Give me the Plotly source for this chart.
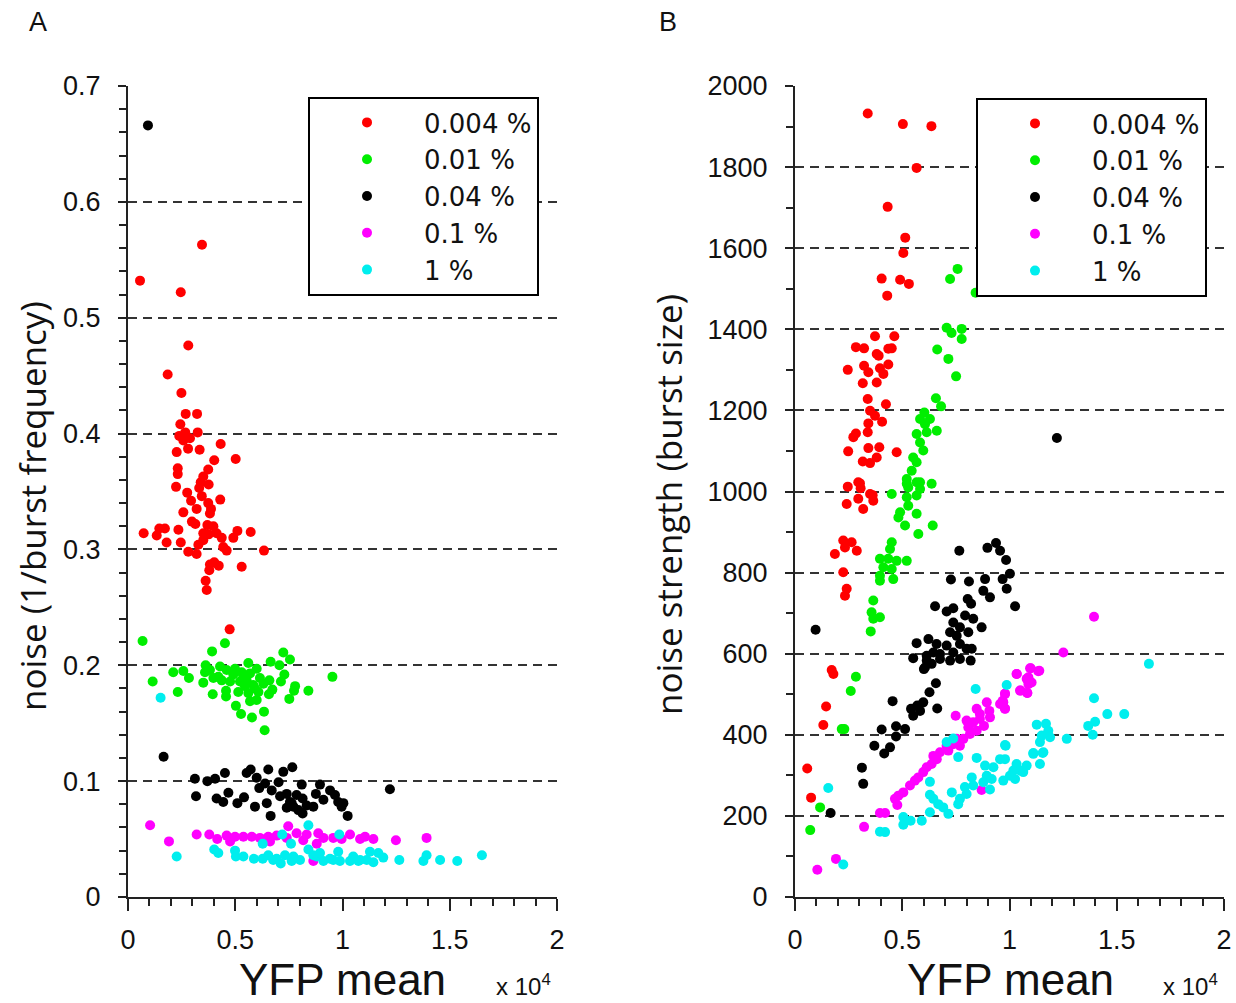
import plotly.graph_objects as go

# ---------------- Panel A: noise (1/burst frequency) vs YFP mean (x 1e4) ----------------
a_red_x = [0.056,0.246,0.345,0.281,0.185,0.249,0.269,0.322,0.244,0.325,0.239,0.267,0.258,0.289,0.280,0.334,0.432,0.227,0.502,0.402,
           0.374,0.232,0.232,0.351,0.339,0.376,0.224,0.332,0.276,0.344,0.430,0.294,0.374,0.320,0.387,0.258,0.382,0.298,0.314,0.370,
           0.398,0.073,0.134,0.146,0.172,0.235,0.180,0.246,0.351,0.351,0.376,0.413,0.437,0.491,0.510,0.572,0.444,0.460,0.281,0.320,
           0.328,0.634,0.382,0.402,0.423,0.379,0.530,0.362,0.367,0.474]
a_red_y = [0.532,0.522,0.563,0.476,0.451,0.435,0.417,0.417,0.408,0.401,0.398,0.401,0.394,0.396,0.387,0.386,0.391,0.384,0.378,0.377,
           0.369,0.370,0.365,0.363,0.358,0.356,0.354,0.353,0.349,0.346,0.343,0.342,0.340,0.335,0.335,0.332,0.331,0.324,0.322,0.321,
           0.320,0.314,0.312,0.318,0.318,0.317,0.306,0.306,0.314,0.308,0.313,0.314,0.310,0.310,0.316,0.315,0.302,0.299,0.298,0.296,
           0.304,0.299,0.287,0.289,0.286,0.282,0.285,0.273,0.265,0.231]

a_green_x = [0.068,0.115,0.211,0.258,0.284,0.232,0.392,0.452,0.362,0.359,0.351,0.395,0.429,0.460,0.421,0.457,0.457,0.491,0.522,0.514,
             0.503,0.527,0.561,0.569,0.553,0.584,0.561,0.569,0.600,0.578,0.600,0.615,0.634,0.637,0.659,0.665,0.673,0.657,0.706,0.713,
             0.729,0.724,0.755,0.779,0.774,0.752,0.841,0.953,0.476,0.538,0.545,0.592,0.631,0.608,0.530,0.499,0.382,0.398,0.437]
a_green_y = [0.221,0.186,0.194,0.195,0.189,0.177,0.212,0.219,0.200,0.194,0.185,0.175,0.199,0.196,0.190,0.178,0.173,0.192,0.186,0.177,
             0.165,0.158,0.202,0.193,0.187,0.183,0.176,0.169,0.170,0.155,0.197,0.189,0.160,0.144,0.187,0.203,0.179,0.175,0.200,0.186,
             0.192,0.211,0.205,0.182,0.178,0.171,0.178,0.190,0.186,0.190,0.182,0.180,0.184,0.177,0.194,0.197,0.196,0.189,0.187]

a_black_x = [0.093,0.166,0.312,0.317,0.370,0.406,0.452,0.413,0.444,0.468,0.510,0.541,0.553,0.572,0.592,0.600,0.612,0.639,0.654,0.665,
             0.670,0.647,0.702,0.724,0.766,0.709,0.740,0.755,0.771,0.786,0.810,0.814,0.814,0.833,0.864,0.876,0.895,0.911,0.942,0.965,
             0.980,0.996,1.004,1.024,1.221,0.763,0.740,0.794]
a_black_y = [0.666,0.121,0.102,0.087,0.100,0.102,0.107,0.085,0.082,0.090,0.081,0.086,0.107,0.110,0.078,0.103,0.094,0.098,0.110,0.070,
             0.092,0.081,0.099,0.108,0.112,0.087,0.089,0.082,0.078,0.088,0.097,0.085,0.072,0.079,0.078,0.089,0.097,0.084,0.092,0.088,
             0.082,0.078,0.081,0.070,0.093,0.081,0.077,0.075]

a_mag_x = [0.103,0.191,0.320,0.379,0.416,0.460,0.499,0.538,0.577,0.615,0.654,0.693,0.747,0.786,0.833,0.887,0.911,0.957,0.996,1.035,
           1.082,1.105,1.144,1.249,1.392,0.864,0.476,0.662,0.817,0.880,0.740]
a_mag_y = [0.062,0.048,0.054,0.054,0.050,0.053,0.052,0.052,0.052,0.051,0.052,0.053,0.061,0.055,0.054,0.055,0.051,0.051,0.050,0.054,
           0.050,0.052,0.050,0.049,0.051,0.031,0.048,0.048,0.049,0.046,0.051]

a_cyan_x = [0.152,0.227,0.402,0.421,0.499,0.503,0.538,0.587,0.628,0.628,0.654,0.693,0.712,0.719,0.732,0.760,0.763,0.802,0.841,0.841,
            0.880,0.911,0.942,0.980,0.985,0.988,1.035,1.074,1.113,1.128,1.144,1.167,1.190,1.265,1.377,1.392,1.455,1.535,1.650,0.771,
            0.864,0.895,0.957,1.050,1.082,0.677]
a_cyan_y = [0.172,0.035,0.041,0.038,0.040,0.035,0.035,0.033,0.046,0.033,0.036,0.033,0.029,0.054,0.036,0.046,0.031,0.032,0.062,0.041,
            0.035,0.031,0.033,0.039,0.054,0.031,0.031,0.031,0.032,0.039,0.030,0.038,0.034,0.032,0.031,0.036,0.032,0.031,0.036,0.035,
            0.036,0.038,0.032,0.035,0.032,0.032]

# ---------------- Panel B: noise strength (burst size) vs YFP mean (x 1e4) ----------------
b_red_x = [0.339,0.503,0.636,0.567,0.432,0.514,0.505,0.404,0.490,0.531,0.430,0.373,0.463,0.284,0.322,0.381,0.435,0.451,0.390,0.246,
           0.322,0.342,0.396,0.435,0.412,0.316,0.381,0.339,0.424,0.350,0.373,0.406,0.342,0.339,0.284,0.272,0.248,0.342,0.393,0.381,
           0.316,0.350,0.474,0.295,0.246,0.306,0.362,0.303,0.350,0.365,0.241,0.295,0.318,0.225,0.264,0.288,0.186,0.233,0.225,0.241,
           0.233,0.179,0.171,0.145,0.132,0.057,0.075]
b_red_y = [1932,1906,1901,1798,1702,1626,1588,1525,1522,1512,1483,1383,1383,1356,1353,1339,1352,1353,1335,1300,
           1310,1294,1304,1313,1290,1267,1269,1228,1215,1199,1187,1172,1168,1146,1143,1134,1099,1107,1109,1084,
           1074,1070,1097,1023,1012,1008,991,1020,994,977,969,982,957,879,875,854,846,862,801,760,
           743,550,560,470,424,317,245]

b_green_x = [0.758,0.723,0.842,0.707,0.730,0.777,0.777,0.663,0.715,0.751,0.657,0.681,0.603,0.583,0.629,0.606,0.661,0.567,0.614,0.583,
             0.598,0.551,0.567,0.544,0.521,0.637,0.583,0.528,0.521,0.567,0.583,0.567,0.521,0.528,0.490,0.482,0.567,0.451,0.513,0.575,
             0.642,0.451,0.443,0.396,0.435,0.474,0.521,0.412,0.451,0.396,0.396,0.458,0.365,0.357,0.396,0.365,0.353,0.284,0.260,0.218,
             0.230,0.117,0.071]
b_green_y = [1549,1524,1490,1404,1391,1401,1376,1350,1327,1284,1230,1210,1195,1179,1179,1166,1150,1142,1146,1121,
             1101,1084,1072,1051,1031,1019,1023,1010,1019,1023,1006,990,986,965,949,936,945,994,916,895,
             916,875,858,834,834,829,829,813,809,792,780,784,731,702,690,686,655,543,508,414,
             414,221,165]

b_black_x = [0.096,0.766,0.897,0.937,0.956,0.984,1.002,0.968,0.987,1.026,0.727,0.811,0.886,0.878,0.909,0.805,0.821,0.653,0.707,0.738,
             0.793,0.831,0.870,0.738,0.769,0.808,0.723,0.754,0.622,0.567,0.660,0.707,0.769,0.824,0.645,0.738,0.551,0.614,0.676,0.723,
             0.769,0.819,0.601,0.800,0.614,0.676,0.637,0.606,0.657,0.627,0.598,0.570,0.541,0.583,0.551,0.663,0.455,0.404,0.471,0.513,
             0.471,0.370,0.443,0.416,0.312,0.318,0.166,1.221]
b_black_y = [659,854,861,873,854,831,797,784,760,717,783,778,784,755,739,735,723,717,704,712,
             694,686,665,677,665,653,653,644,636,626,624,620,624,612,603,603,589,583,587,583,
             587,583,562,612,595,599,575,566,527,505,480,472,464,459,447,465,483,413,421,414,
             396,373,369,354,319,279,207,1132]

b_mag_x = [1.251,1.096,1.134,1.034,1.088,1.103,1.049,1.083,0.979,0.968,0.956,0.979,0.894,0.847,0.906,0.909,0.862,0.831,0.800,0.881,
           0.847,0.816,0.785,0.769,0.738,0.715,0.676,0.661,0.637,0.614,0.598,0.575,0.559,0.536,0.505,0.482,0.466,0.477,0.396,0.420,
           0.322,0.191,0.104,0.749,0.870,0.707,0.645,0.754,0.808,0.862,1.394,1.033,1.099,1.139,1.080,1.088,1.052,1.083,0.979,0.971,
           0.979]
b_mag_y = [603,564,557,550,542,529,509,503,501,484,476,464,480,464,459,443,439,431,435,422,
           410,402,390,373,377,361,357,340,328,320,308,295,287,275,258,250,242,227,207,207,
           173,94,67,447,264,373,348,390,418,451,691,550,564,558,538,525,509,503,501,480,
           465]

b_cyan_x = [1.650,1.394,1.456,1.535,1.399,1.367,1.388,1.267,0.987,1.127,1.170,1.181,1.150,1.189,1.142,0.979,1.111,1.155,1.142,0.979,
            1.033,1.080,1.018,1.049,1.002,1.026,0.971,0.842,0.707,0.738,0.761,0.847,0.982,0.956,1.111,1.158,0.886,0.925,0.894,0.917,
            0.878,0.909,1.064,0.824,0.831,0.792,0.800,0.769,0.761,0.731,0.629,0.629,0.645,0.668,0.691,0.715,0.629,0.591,0.539,0.505,
            0.505,0.396,0.420,0.155,0.225]
b_cyan_y = [575,490,451,451,432,422,400,390,523,425,427,410,398,394,382,375,355,355,328,340,
            328,324,312,312,299,291,287,513,382,391,345,343,373,340,353,357,324,320,299,291,
            283,265,308,295,275,271,254,242,229,258,284,252,242,229,221,205,209,188,188,197,
            178,161,160,269,80]

series_names = ["0.004 %", "0.01 %", "0.04 %", "0.1 %", "1 %"]
series_colors = ["#ff0000", "#00ee00", "#000000", "#ff00ff", "#00eeee"]

panel_a = [(a_red_x, a_red_y), (a_green_x, a_green_y), (a_black_x, a_black_y), (a_mag_x, a_mag_y), (a_cyan_x, a_cyan_y)]
panel_b = [(b_red_x, b_red_y), (b_green_x, b_green_y), (b_black_x, b_black_y), (b_mag_x, b_mag_y), (b_cyan_x, b_cyan_y)]

x_tickvals = [0, 0.5, 1, 1.5, 2]
x_ticktext = ["0", "0.5", "1", "1.5", "2"]
ya_tickvals = [0, 0.1, 0.2, 0.3, 0.4, 0.5, 0.6, 0.7]
ya_ticktext = ["0", "0.1", "0.2", "0.3", "0.4", "0.5", "0.6", "0.7"]
yb_tickvals = [0, 200, 400, 600, 800, 1000, 1200, 1400, 1600, 1800, 2000]

W, H = 1236, 1003
fig = go.Figure()

for (xs, ys), name, col in zip(panel_a, series_names, series_colors):
    fig.add_trace(go.Scatter(x=xs, y=ys, mode="markers", name=name, xaxis="x", yaxis="y",
                             marker=dict(color=col, size=10, line=dict(width=0)), legend="legend"))
for (xs, ys), name, col in zip(panel_b, series_names, series_colors):
    fig.add_trace(go.Scatter(x=xs, y=ys, mode="markers", name=name, xaxis="x2", yaxis="y2",
                             marker=dict(color=col, size=10, line=dict(width=0)), legend="legend2"))

tickfont = dict(family="Liberation Sans, Arial", size=27, color="#111")
common_x = dict(range=[0, 2], tickvals=x_tickvals, ticktext=x_ticktext, showgrid=False, zeroline=False,
                showline=True, linecolor="#222", linewidth=2, ticks="outside", ticklen=12, tickwidth=2,
                tickcolor="#222", tickfont=tickfont, ticklabelstandoff=6, automargin=False,
                minor=dict(dtick=0.1, ticks="outside", ticklen=7, tickwidth=2, tickcolor="#222", showgrid=False))
common_y = dict(showgrid=True, gridcolor="#333", gridwidth=1.5, griddash="9px,6px", zeroline=False,
                showline=True, linecolor="#222", linewidth=2, ticks="outside", ticklen=8, tickwidth=2,
                tickcolor="#222", tickfont=tickfont, ticklabelstandoff=12, automargin=False)

dom_y = [1 - 897 / H, 1 - 86 / H]
legend_common = dict(xanchor="left", yanchor="top", bgcolor="white", bordercolor="black", borderwidth=2,
                     font=dict(family="DejaVu Sans", size=26, color="#111"), itemwidth=104)
fig.update_layout(
    width=W, height=H, margin=dict(l=0, r=0, t=0, b=0, autoexpand=False),
    plot_bgcolor="white", paper_bgcolor="white", showlegend=True,
    xaxis=dict(domain=[128 / W, 557 / W], anchor="y", **common_x),
    xaxis2=dict(domain=[795 / W, 1224 / W], anchor="y2", **common_x),
    yaxis=dict(domain=dom_y, anchor="x", range=[0, 0.7], tickvals=ya_tickvals, ticktext=ya_ticktext,
               minor=dict(dtick=0.02, ticks="outside", ticklen=7, tickwidth=2, tickcolor="#222", showgrid=False),
               **common_y),
    yaxis2=dict(domain=dom_y, anchor="x2", range=[0, 2000], tickvals=yb_tickvals,
                minor=dict(dtick=100, ticks="outside", ticklen=7, tickwidth=2, tickcolor="#222", showgrid=False),
                **common_y),
    legend=dict(x=308 / W, y=1 - 97 / H, **legend_common),
    legend2=dict(x=976 / W, y=1 - 98 / H, **legend_common),
)

def txt(text, px, py, size, family, angle=0):
    return dict(text=text, x=px / W, y=1 - py / H, xref="paper", yref="paper", showarrow=False,
                xanchor="center", yanchor="middle", textangle=angle,
                font=dict(family=family, size=size, color="#111"))

ann = [
    txt("A", 38, 22, 27, "Liberation Sans"),
    txt("B", 668, 22, 27, "Liberation Sans"),
    txt("noise (1/burst frequency)", 32, 506, 35, "Open Sans", -90),
    txt("noise strength (burst size)", 668, 505, 35, "Open Sans", -90),
]
for cx, ex in [(342, 523), (1010, 1190)]:
    ann.append(txt("YFP mean", cx, 979, 44, "Liberation Sans Narrow, Liberation Sans"))
    ann.append(txt("x 10<sup>4</sup>", ex, 985, 24, "Liberation Sans"))
fig.update_layout(annotations=ann)

fig.write_html("out.html", config={"displayModeBar": False},
               post_script="document.body.style.margin='0px';")
